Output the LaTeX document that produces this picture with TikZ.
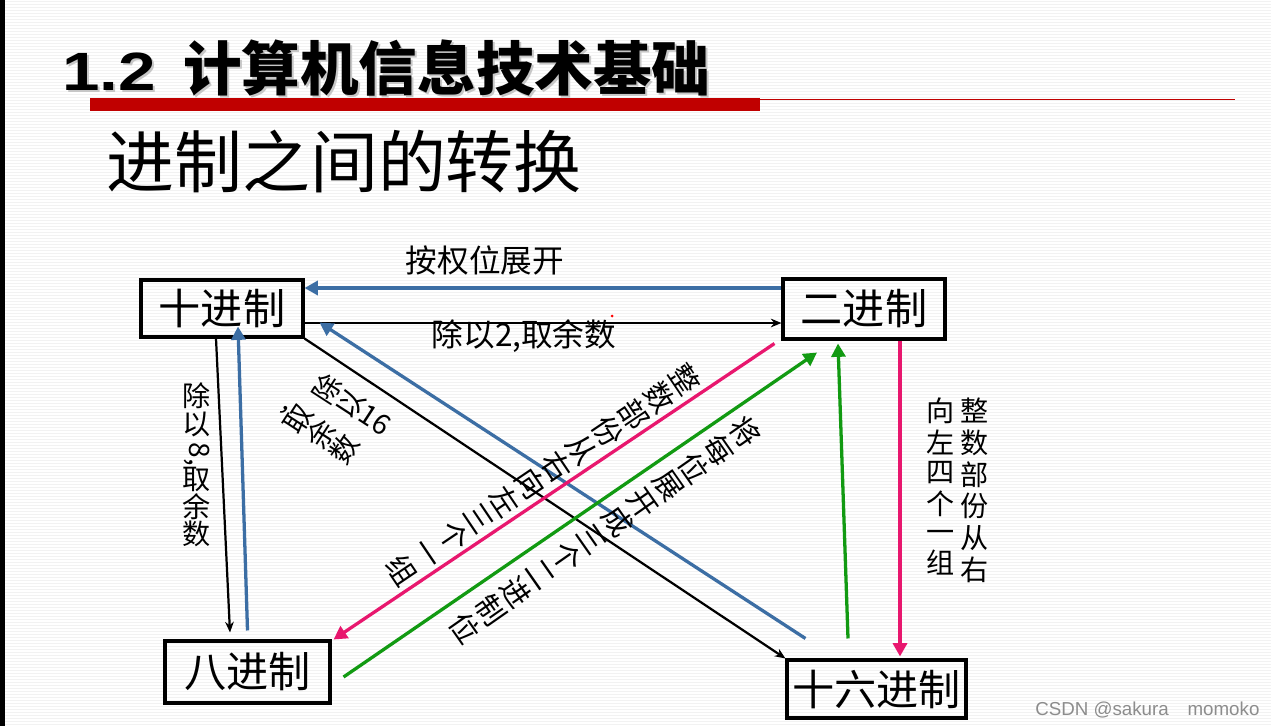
\documentclass[tikz,border=0pt]{standalone}
\usepackage{fontspec}
\usepackage{graphicx}
\setmainfont{Noto Sans CJK SC}
\newfontfamily\latinfont{Liberation Sans}
\usetikzlibrary{arrows.meta, calc}
\definecolor{ArrowBlue}{HTML}{3C6EA4}
\definecolor{ArrowPink}{HTML}{E8176E}
\definecolor{ArrowGreen}{HTML}{129A12}
\definecolor{BarRed}{HTML}{C00000}
\newcommand{\vcol}[1]{\begin{tabular}[t]{@{}c@{}}#1\end{tabular}}

\begin{document}
\begin{tikzpicture}[
            x=0.03cm, y=-0.03cm, >=Stealth,
            numbox/.style = {rectangle, draw=black, line width=2.6pt, inner sep=0pt, font=\fontsize{36}{36}\selectfont},
            note/.style = {font=\fontsize{27}{27}\selectfont, inner sep=0pt},
            vnote/.style = {font=\fontsize{24}{23.5}\selectfont, align=center, inner sep=0pt},
            dnote/.style = {font=\fontsize{25}{26.5}\selectfont, align=center, inner sep=0pt},
            arrow/.style = {draw, line width=2.8pt, -{Triangle[length=0.4cm, width=0.42cm]}},
            thinarrow/.style = {draw, line width=1.9pt, -{Stealth[length=0.32cm, width=0.26cm]}},
            stripe/.style = {line width=0.6pt, black!5}
        ]
            \useasboundingbox (0,0) rectangle (1271,726);
            \fill[white] (0,0) rectangle (1271,726);
            \foreach \y in {1,4,...,726} \draw[stripe] (0,\y) -- (1271,\y);
            \fill[black] (0,0) rectangle (5,726);

            % heading
            \node[anchor=base west, inner sep=0pt, text=black!22, font=\latinfont\bfseries\fontsize{46}{46}\selectfont] at (64,92) {\scalebox{1.25}[1]{1.2}};
            \node[anchor=base west, inner sep=0pt, text=black!22, font=\bfseries\fontsize{50}{50}\selectfont] at (185,92) {计算机信息技术基础};
            \node[anchor=base west, inner sep=0pt, font=\latinfont\bfseries\fontsize{46}{46}\selectfont] (num) at (62,90) {\scalebox{1.25}[1]{1.2}};
            \node[anchor=base west, inner sep=0pt, font=\bfseries\fontsize{50}{50}\selectfont] (title) at (183,90) {计算机信息技术基础};
            \fill[BarRed] (90,98) rectangle (760,111);
            \draw[BarRed, line width=0.8pt] (760,99) -- (1235,99);
            \node[anchor=base west, inner sep=0pt, font=\fontsize{58}{58}\selectfont] (subtitle) at (106,187) {进制之间的转换};

            % number systems
            \node[numbox, minimum width=4.86cm, minimum height=1.71cm] (dec) at (222,308.5) {十进制};
            \node[numbox, minimum width=4.86cm, minimum height=1.8cm] (bin) at (864,309) {二进制};
            \node[numbox, minimum width=4.95cm, minimum height=1.86cm] (oct) at (247.5,672) {八进制};
            \node[numbox, minimum width=5.37cm, minimum height=1.74cm] (hex) at (876.5,689) {十六进制};

            % connectors
            \draw[arrow, ArrowBlue] ($(bin.west)+(0,-21)$) -- ($(dec.east)+(0,-20.5)$);
            \draw[thinarrow] ($(dec.east)+(0,14.5)$) -- ($(bin.west)+(0,14)$);
            \draw[thinarrow] ($(dec.south)+(-6,0)$) -- ($(oct.north)+(-17.5,-7)$);
            \draw[arrow, ArrowBlue] ($(oct.north)+(0,-9)$) -- ($(dec.south)+(16,-12)$);
            \draw[thinarrow] (dec.south east) -- (hex.north west);
            \draw[arrow, ArrowBlue] ($(hex.north west)+(20,-20)$) -- ($(dec.east)+(15,14)$);
            \draw[arrow, ArrowPink] ($(bin.south west)+(-7,3)$) -- ($(oct.north east)+(2,0)$);
            \draw[arrow, ArrowGreen] ($(oct.east)+(12,5)$) -- ($(bin.south)+(-47,12)$);
            \draw[arrow, ArrowGreen] ($(hex.north)+(-28.5,-20)$) -- ($(bin.south)+(-26,3)$);
            \draw[arrow, ArrowPink] ($(bin.south)+(36,0)$) -- ($(hex.north)+(23.5,-2)$);

            % labels
            \node[note] (weights) at (485,260) {按权位展开};
            \node[note] (div2) at (524,336) {除以2,取余数};
            \node[vnote] (div8) at (197,465) {除\\以\\\rotatebox[origin=c]{-90}{8,}\\取\\余\\数};
            \node[vnote, rotate=57] (div16a) at (352,405) {除\\以\\\rotatebox[origin=c]{-90}{16}};
            \node[vnote, rotate=57] (div16b) at (318,432) {\rotatebox[origin=c]{-90}{,}\\取\\余\\数};
            \node[dnote, rotate=-56] (group3) at (544,475) {整\\数\\部\\份\\从\\右\\向\\左\\三\\个\\一\\组};
            \node[dnote, rotate=-55] (expand3) at (605,530) {将\\每\\位\\展\\开\\成\\三\\个\\二\\进\\制\\位};
            \node[vnote] (group4) at (958,493) {\begin{tabular}{@{}c@{\hspace{5pt}}c@{}}\vcol{向\\左\\四\\个\\一\\组} & \vcol{整\\数\\部\\份\\从\\右}\end{tabular}};

            \fill[red] (612,316) circle (1.5);
            \node[anchor=base west, inner sep=0pt, text=black!45, font=\latinfont\fontsize{16}{16}\selectfont] (mark) at (1035,715) {CSDN @sakura\quad momoko};
        \end{tikzpicture}
\end{document}
